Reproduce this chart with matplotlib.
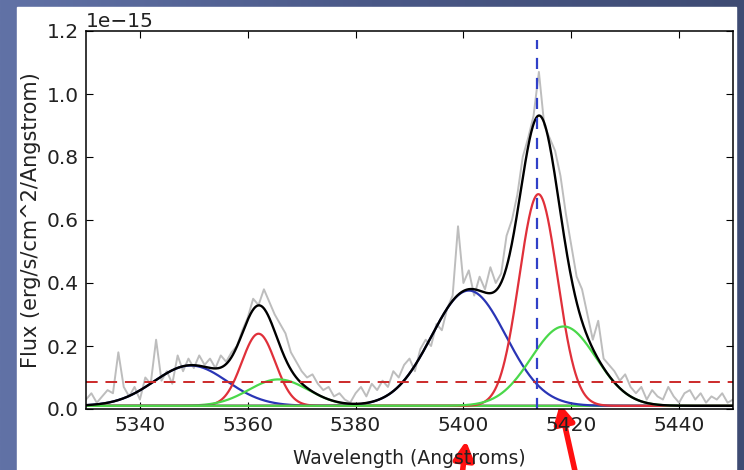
import numpy as np
import matplotlib
matplotlib.use("Agg")
import matplotlib.pyplot as plt
from matplotlib.patches import Rectangle
from matplotlib.colors import LinearSegmentedColormap

# observed spectrum, 1 Angstrom steps (flux in 1e-15 erg/s/cm^2/A)
wave_start = 5330
flux_obs = [0.03, 0.05, 0.02, 0.04, 0.06, 0.05, 0.18, 0.07, 0.04, 0.07,
            0.03, 0.10, 0.08, 0.22, 0.09, 0.12, 0.08, 0.17, 0.12, 0.16,
            0.13, 0.17, 0.14, 0.16, 0.13, 0.17, 0.15, 0.18, 0.20, 0.25,
            0.29, 0.35, 0.33, 0.38, 0.34, 0.30, 0.27, 0.24, 0.18, 0.15,
            0.12, 0.10, 0.11, 0.08, 0.06, 0.07, 0.04, 0.05, 0.03, 0.02,
            0.05, 0.07, 0.04, 0.08, 0.06, 0.09, 0.07, 0.12, 0.10, 0.14,
            0.16, 0.12, 0.19, 0.22, 0.20, 0.27, 0.25, 0.32, 0.36, 0.58,
            0.40, 0.44, 0.36, 0.42, 0.38, 0.45, 0.40, 0.43, 0.55, 0.60,
            0.68, 0.80, 0.86, 0.93, 1.07, 0.90, 0.86, 0.82, 0.74, 0.62,
            0.52, 0.42, 0.38, 0.30, 0.22, 0.28, 0.16, 0.14, 0.12, 0.09,
            0.11, 0.07, 0.05, 0.07, 0.03, 0.06, 0.04, 0.03, 0.07, 0.04,
            0.02, 0.05, 0.06, 0.03, 0.05, 0.02, 0.04, 0.03, 0.05, 0.02,
            0.03]

# fitted gaussian components (amplitude in 1e-15, centre, sigma in A)
continuum = 0.01
comp_colors = ["#2a35b5", "#e0303a", "#4ad84a", "#2a35b5", "#e0303a", "#4ad84a"]
comp_amp = [0.128, 0.229, 0.084, 0.366, 0.672, 0.252]
comp_cen = [5349.4, 5362.0, 5365.7, 5401.0, 5413.9, 5418.6]
comp_sig = [6.8, 3.1, 5.5, 6.9, 3.55, 6.0]

line_centre = 5413.7
threshold = 0.085
scale = 1e-15

wave_obs = wave_start + np.arange(len(flux_obs))
wave = np.linspace(5330, 5450, 1200)

fig = plt.figure(figsize=(7.44, 4.70), dpi=100)

# slide background + white plot area
bg = fig.add_axes([0, 0, 1, 1], zorder=-10)
cmap = LinearSegmentedColormap.from_list("slide", ["#6172a6", "#4a5887", "#3e4b73"])
bg.imshow(np.linspace(0, 1, 256)[None, :], aspect="auto", cmap=cmap, extent=[0, 1, 0, 1])
bg.add_patch(Rectangle((17 / 744, 0), (736 - 17) / 744, 1 - 7 / 470, color="white"))
bg.set_xlim(0, 1)
bg.set_ylim(0, 1)
bg.axis("off")

ax = fig.add_axes([86 / 744, 1 - 409 / 470, (733 - 86) / 744, (409 - 31) / 470])

ax.plot(wave_obs, np.array(flux_obs) * scale, color="#bdbdbd", lw=1.4)

total = np.full_like(wave, continuum)
for a, c, s, col in zip(comp_amp, comp_cen, comp_sig, comp_colors):
    g = a * np.exp(-0.5 * ((wave - c) / s) ** 2)
    total += g
    ax.plot(wave, (g + continuum) * scale, color=col, lw=1.6)
ax.plot(wave, total * scale, color="black", lw=1.7)

ax.axhline(threshold * scale, color="#cc2a2a", ls="--", lw=1.4, dashes=(6, 4))
ax.plot([line_centre, line_centre], [0, 1.17 * scale], color="#3040c8", ls="--", lw=1.6, dashes=(5, 4))

ax.set_xlim(5330, 5450)
ax.set_ylim(0, 1.2 * scale)
ax.set_xticks([5340, 5360, 5380, 5400, 5420, 5440])
ax.set_yticks(np.arange(0, 1.21, 0.2) * scale)
ax.tick_params(direction="in", top=True, right=True, labelsize=14.5, length=5, width=0.8, pad=5,
               labelcolor="#222222")
ax.yaxis.get_offset_text().set_fontsize(14.5)
ax.yaxis.get_offset_text().set_color("#222222")
for sp in ax.spines.values():
    sp.set_linewidth(1.1)
ax.set_xlabel("Wavelength (Angstroms)", fontsize=13.5, color="#222222", labelpad=10)
ax.set_ylabel("Flux (erg/s/cm^2/Angstrom)", fontsize=15, color="#222222", labelpad=4)

# red arrows drawn on the slide
arrow = dict(arrowstyle="-|>,head_length=1.1,head_width=0.6", color="#ff1010", lw=4,
             shrinkA=0, shrinkB=0)
bg.annotate("", xy=(466 / 744, 1 - 441 / 470), xytext=(461 / 744, 1 - 485 / 470),
            xycoords="axes fraction", arrowprops=arrow, annotation_clip=False)
bg.annotate("", xy=(560 / 744, 1 - 404 / 470), xytext=(577 / 744, 1 - 480 / 470),
            xycoords="axes fraction", arrowprops=arrow, annotation_clip=False)

fig.savefig("out.png", dpi=100)
